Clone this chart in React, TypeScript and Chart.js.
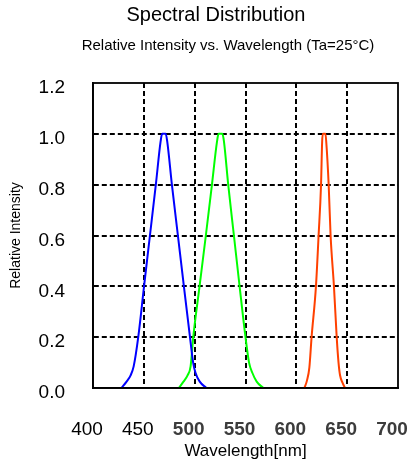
import React, { useEffect, useRef } from "react";
import { Chart, registerables } from "chart.js";

Chart.register(...registerables);

const TITLE = "Spectral Distribution";
const SUBTITLE = "Relative Intensity vs. Wavelength (Ta=25°C)";
const X_TITLE = "Wavelength[nm]";
const Y_TITLE = "Relative Intensity";

const xTickValues = [400, 450, 500, 550, 600, 650, 700];

const blueWavelength = [428, 433, 437, 440, 444.5, 450.2, 456, 461.8, 466.5, 468, 471.5, 473, 477.6, 483.5, 489.4, 495.4, 498.5, 500.8, 505, 511.5];
const blueIntensity = [0, 0.025, 0.05, 0.085, 0.2, 0.4, 0.6, 0.8, 0.97, 1.0, 1.0, 0.97, 0.8, 0.6, 0.4, 0.2, 0.1, 0.06, 0.025, 0];

const greenWavelength = [484.5, 489, 493, 496, 498.6, 504.8, 511, 517, 522, 523.5, 527.3, 528.8, 533, 538.6, 544.2, 550, 553.5, 556.7, 561, 567.5];
const greenIntensity = [0, 0.025, 0.05, 0.085, 0.2, 0.4, 0.6, 0.8, 0.97, 1.0, 1.0, 0.97, 0.8, 0.6, 0.4, 0.2, 0.1, 0.06, 0.025, 0];

const redWavelength = [608, 610.5, 612.8, 615, 619.3, 621.9, 624.3, 625.4, 626.2, 628.6, 629.4, 631.8, 633.7, 637, 639.7, 641.5, 643, 645.5, 648];
const redIntensity = [0, 0.03, 0.08, 0.2, 0.4, 0.6, 0.8, 0.97, 1.0, 1.0, 0.97, 0.8, 0.6, 0.4, 0.2, 0.1, 0.05, 0.02, 0];

const BLUE = "#0000ff";
const GREEN = "#00ff00";
const RED = "#ff4000";

const FONT = '"Liberation Sans", Arial, Helvetica, sans-serif';

const toPoints = (xs: number[], ys: number[]) => xs.map((x, i) => ({ x, y: ys[i] }));

const titlesPlugin = {
  id: "titlesAndFrame",
  afterDraw(chart: any) {
    const ctx = chart.ctx as CanvasRenderingContext2D;
    const a = chart.chartArea;
    ctx.save();
    ctx.strokeStyle = "#000";
    ctx.lineWidth = 1.8;
    ctx.setLineDash([]);
    ctx.strokeRect(a.left, a.top, a.right - a.left, a.bottom - a.top);
    ctx.fillStyle = "#000";
    ctx.textAlign = "center";
    ctx.textBaseline = "middle";
    ctx.font = `20px ${FONT}`;
    ctx.fillText(TITLE, 216, 15);
    ctx.font = `15px ${FONT}`;
    ctx.fillText(SUBTITLE, 228, 46);
    ctx.restore();
  },
};

export default function App() {
  const ref = useRef<HTMLCanvasElement | null>(null);

  useEffect(() => {
    if (!ref.current) return;
    const lineDs = (label: string, xs: number[], ys: number[], color: string) => ({
      label,
      data: toPoints(xs, ys),
      borderColor: color,
      backgroundColor: color,
      borderWidth: 2,
      pointRadius: 0,
      fill: false,
      cubicInterpolationMode: "monotone" as const,
    });

    const chart = new Chart(ref.current, {
      type: "line",
      data: {
        datasets: [
          lineDs("Blue", blueWavelength, blueIntensity, BLUE),
          lineDs("Green", greenWavelength, greenIntensity, GREEN),
          lineDs("Red", redWavelength, redIntensity, RED),
        ],
      },
      options: {
        animation: false,
        responsive: true,
        maintainAspectRatio: false,
        layout: { padding: { top: 83, right: 10, bottom: 0, left: 0 } },
        plugins: {
          legend: { display: false },
          tooltip: { enabled: false },
          title: { display: false },
        },
        scales: {
          x: {
            type: "linear",
            min: 400,
            max: 700,
            afterBuildTicks: (scale: any) => {
              scale.ticks = xTickValues.map((v) => ({ value: v }));
            },
            afterFit: (scale: any) => {
              scale.height = 80;
              scale.paddingLeft = 0;
              scale.paddingRight = 0;
            },
            ticks: {
              padding: 30,
              labelOffset: -6,
              maxRotation: 0,
              autoSkip: false,
              color: (c: any) => (c.index <= 1 ? "#000" : "#3c3c3c"),
              font: (c: any) => ({ family: FONT, size: 19, weight: c.index <= 1 ? "normal" : "bold" }),
              callback: (v: any) => String(v),
            },
            grid: {
              drawTicks: false,
              lineWidth: 2,
              color: (c: any) =>
                c.tick && (c.tick.value === 400 || c.tick.value === 700) ? "rgba(0,0,0,0)" : "#000",
            },
            border: { display: true, color: "#000", width: 1.8, dash: [5, 3] },
            title: {
              display: true,
              text: X_TITLE,
              color: "#000",
              font: { family: FONT, size: 17 },
              padding: { top: 0, bottom: 6 },
            },
          },
          y: {
            type: "linear",
            min: 0,
            max: 1.2,
            afterFit: (scale: any) => {
              scale.width = 93;
              scale.paddingTop = 0;
              scale.paddingBottom = 0;
            },
            ticks: {
              stepSize: 0.2,
              padding: 28,
              labelOffset: 5,
              color: "#000",
              font: { family: FONT, size: 19 },
              callback: (v: any) => Number(v).toFixed(1),
            },
            grid: {
              drawTicks: false,
              lineWidth: 2,
              color: (c: any) =>
                c.tick && (c.tick.value <= 0.001 || c.tick.value >= 1.199) ? "rgba(0,0,0,0)" : "#000",
            },
            border: { display: true, color: "#000", width: 1.8, dash: [5, 3] },
            title: {
              display: true,
              text: Y_TITLE,
              color: "#000",
              font: { family: FONT, size: 14 },
              padding: { top: 8, bottom: 0 },
            },
          },
        },
      },
      plugins: [titlesPlugin],
    } as any);

    return () => chart.destroy();
  }, []);

  return (
    <div style={{ position: "absolute", left: 0, top: 0, width: 408, height: 468, background: "#fff" }}>
      <canvas ref={ref} />
    </div>
  );
}
